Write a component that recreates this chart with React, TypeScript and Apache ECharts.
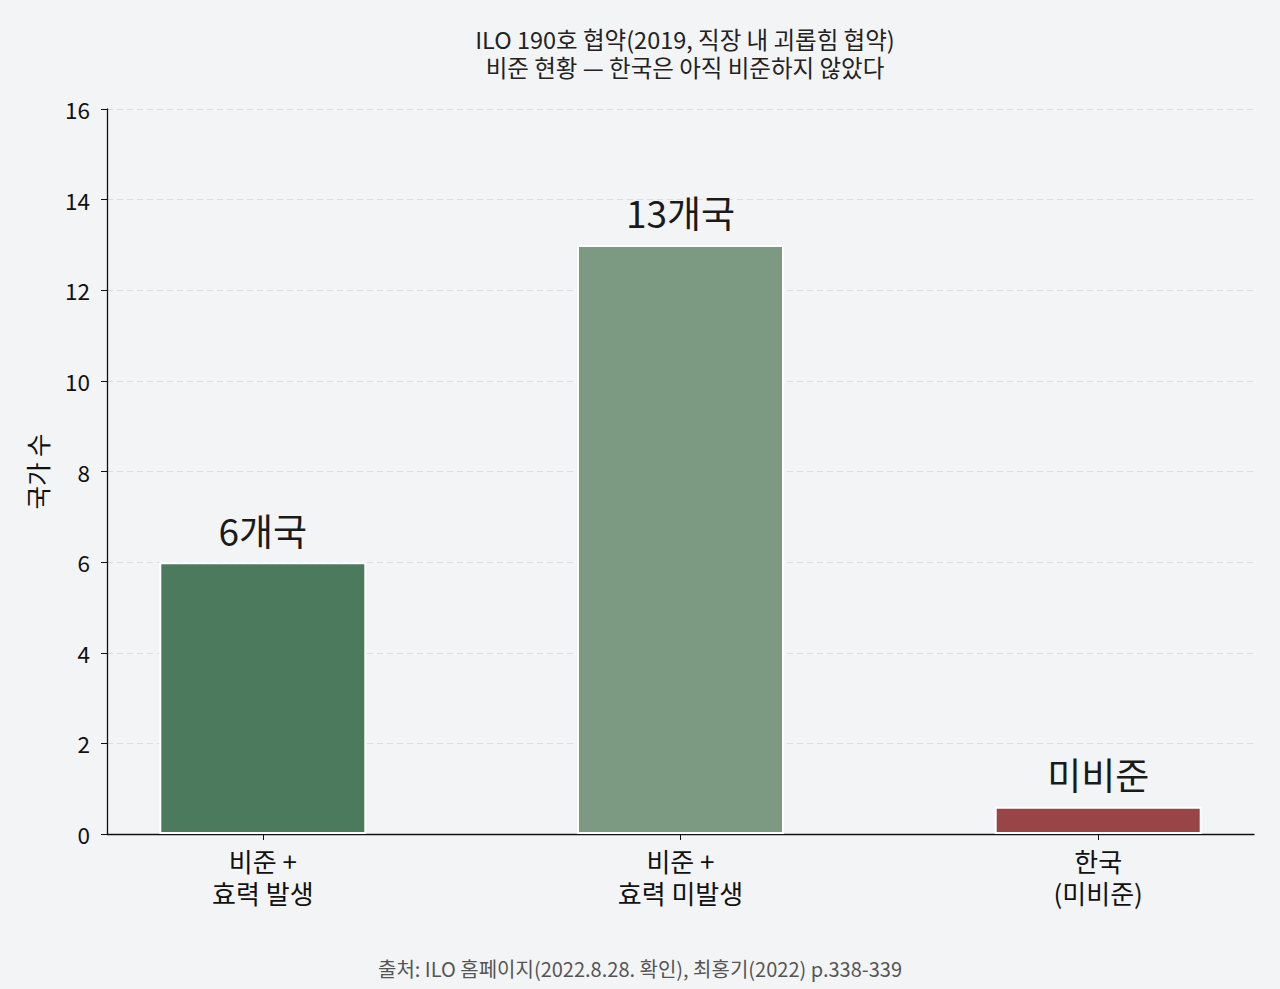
import React, { useEffect, useRef } from "react";
import * as echarts from "echarts";

const categories = ["비준 +\n효력 발생", "비준 +\n효력 미발생", "한국\n(미비준)"];
const values = [6, 13, 0.6];
const barLabels = ["6개국", "13개국", "미비준"];
const barColors = ["#4b7b5c", "#7c9a81", "#9a4545"];
const yTicks = [0, 2, 4, 6, 8, 10, 12, 14, 16];

const FONT = "'Noto Sans CJK KR', 'Noto Sans', sans-serif";

export default function App() {
  const ref = useRef<HTMLDivElement>(null);
  useEffect(() => {
    document.body.style.margin = "0";
    const chart = echarts.init(ref.current!, undefined, { renderer: "svg" });
    chart.setOption({
      animation: false,
      backgroundColor: "#f3f4f6",
      textStyle: { fontFamily: FONT },
      title: {
        text: "ILO 190호 협약(2019, 직장 내 괴롭힘 협약)\n비준 현황 — 한국은 아직 비준하지 않았다",
        left: 680,
        top: 20,
        textAlign: "center",
        textStyle: { fontFamily: FONT, fontSize: 23.5, fontWeight: "normal", color: "#222", lineHeight: 28 },
      },
      graphic: [
        {
          type: "text",
          left: "center",
          top: 958,
          style: {
            text: "출처: ILO 홈페이지(2022.8.28. 확인), 최홍기(2022) p.338-339",
            fontFamily: FONT,
            fontSize: 20,
            fill: "#555",
          },
        },
      ],
      grid: { left: 107, right: 26, top: 109, bottom: 155, containLabel: false },
      xAxis: {
        type: "value",
        min: -0.373,
        max: 2.373,
        splitLine: { show: false },
        axisLine: { show: true, onZero: false, lineStyle: { color: "#111", width: 1.3 } },
        axisTick: { show: true, customValues: [0, 1, 2], length: 6, lineStyle: { color: "#111" } },
        axisLabel: {
          customValues: [0, 1, 2],
          formatter: (v: number) => categories[Math.round(v)] ?? "",
          fontFamily: FONT,
          fontSize: 26,
          color: "#111",
          lineHeight: 32,
          margin: 10,
        },
      },
      yAxis: {
        type: "value",
        min: 0,
        max: 16,
        interval: 2,
        name: "국가 수",
        nameLocation: "middle",
        nameGap: 58,
        nameRotate: 90,
        nameTextStyle: { fontFamily: FONT, fontSize: 25.5, color: "#111" },
        axisLine: { show: true, onZero: false, lineStyle: { color: "#111", width: 1.3 } },
        axisTick: { show: true, length: 6, lineStyle: { color: "#111" } },
        axisLabel: {
          fontFamily: FONT,
          fontSize: 22.5,
          color: "#111",
          margin: 17,
          formatter: (v: number) => (yTicks.includes(v) ? String(v) : ""),
        },
        splitLine: { show: true, lineStyle: { color: "#dcdde0", type: [6, 4], width: 1 } },
      },
      series: [
        {
          type: "bar",
          barWidth: 207,
          data: values.map((v, i) => ({
            value: [i, v],
            itemStyle: { color: barColors[i], borderColor: "#ffffff", borderWidth: 2 },
            label: {
              show: true,
              position: "top",
              distance: 14,
              formatter: barLabels[i],
              fontFamily: FONT,
              fontSize: 37,
              color: "#1a1a1a",
            },
          })),
        },
      ],
    });
    return () => chart.dispose();
  }, []);
  return <div ref={ref} style={{ width: 1280, height: 989 }} />;
}
